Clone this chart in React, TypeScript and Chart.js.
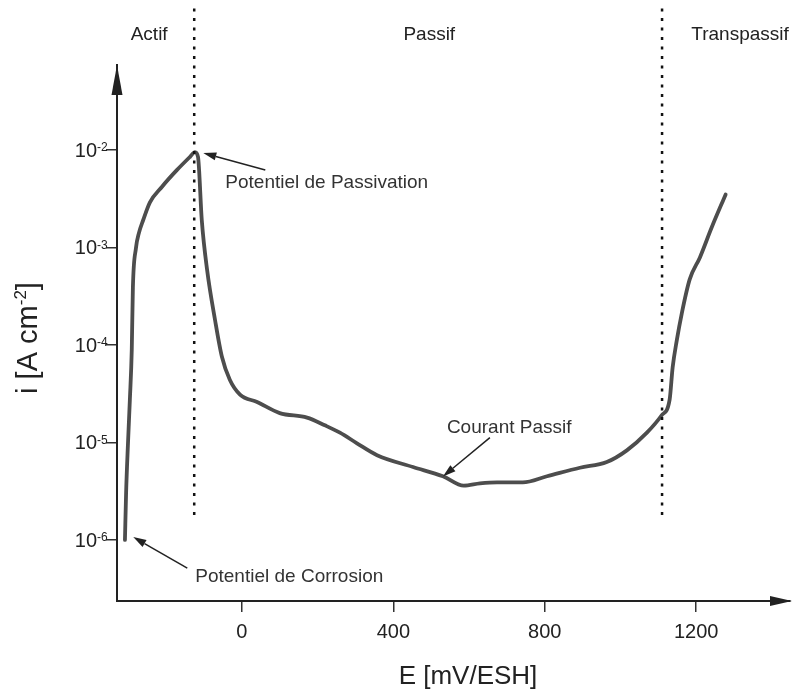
import React, { useEffect, useRef } from "react";
import { Chart, registerables } from "chart.js";

Chart.register(...registerables);

// Polarisation curve: potential (mV/ESH) and current density (A cm^-2)
const potentialMV = [
  -309, -306, -301, -296, -291, -288, -280, -272, -261, -243,
  -211, -172, -137, -124, -116, -106, -92, -71, -53, -32,
  -5, 40, 100, 172, 219, 259, 304, 357, 452, 531,
  586, 629, 674, 742, 806, 893, 964, 1017, 1070, 1109,
  1130, 1138, 1149, 1162, 1183, 1210, 1241, 1278,
];
const currentDensity = [
  1.0e-6, 3.0e-6, 9.8e-6, 2.75e-5, 8.9e-5, 3.9e-4, 9.8e-4, 1.41e-3, 1.9e-3, 2.9e-3,
  4.2e-3, 6.2e-3, 8.5e-3, 9.5e-3, 8.5e-3, 1.9e-3, 5.9e-4, 1.8e-4, 7.6e-5, 4.4e-5,
  3.1e-5, 2.6e-5, 2.0e-5, 1.8e-5, 1.5e-5, 1.26e-5, 9.8e-6, 7.4e-6, 5.6e-6, 4.5e-6,
  3.6e-6, 3.8e-6, 3.9e-6, 3.9e-6, 4.5e-6, 5.5e-6, 6.3e-6, 8.3e-6, 1.26e-5, 1.9e-5,
  2.75e-5, 5.9e-5, 1.12e-4, 2.1e-4, 4.7e-4, 7.9e-4, 1.6e-3, 3.5e-3,
];

const xTickValues = [0, 400, 800, 1200];
const yTickExponents = [-6, -5, -4, -3, -2];

// Region boundaries (dotted verticals) and their vertical extent
const regionBoundariesMV = [-126, 1110];
const boundaryExtent = [1.8e-6, 0.286];

const regionLabels = ["Actif", "Passif", "Transpassif"];
const regionLabelCentersMV = [-245, 495, 1316];

// Annotations: text and the point (E, i) the arrow points to
const annotationTexts = ["Potentiel de Passivation", "Potentiel de Corrosion", "Courant Passif"];
const annotationTipE = [-102, -287, 531];
const annotationTipI = [9.3e-3, 1.07e-6, 4.47e-6];

const xTitle = "E [mV/ESH]";

const FONT = "'Liberation Sans', Arial, sans-serif";

function drawArrow(ctx: CanvasRenderingContext2D, x1: number, y1: number, x2: number, y2: number) {
  const ang = Math.atan2(y2 - y1, x2 - x1);
  const headLen = 13;
  const headW = 4;
  const bx = x2 - headLen * Math.cos(ang);
  const by = y2 - headLen * Math.sin(ang);
  ctx.beginPath();
  ctx.moveTo(x1, y1);
  ctx.lineTo(bx, by);
  ctx.stroke();
  ctx.beginPath();
  ctx.moveTo(x2, y2);
  ctx.lineTo(bx + headW * Math.sin(ang), by - headW * Math.cos(ang));
  ctx.lineTo(bx - headW * Math.sin(ang), by + headW * Math.cos(ang));
  ctx.closePath();
  ctx.fill();
}

const overlayPlugin = {
  id: "overlay",
  afterDraw(chart: any) {
    const ctx: CanvasRenderingContext2D = chart.ctx;
    const xs = chart.scales.x;
    const ys = chart.scales.y;
    const ca = chart.chartArea;
    ctx.save();
    ctx.fillStyle = "#222";
    ctx.strokeStyle = "#222";

    // axis arrowheads
    ctx.beginPath();
    ctx.moveTo(ca.left, ca.top);
    ctx.lineTo(ca.left - 5.5, ca.top + 30);
    ctx.lineTo(ca.left + 5.5, ca.top + 30);
    ctx.closePath();
    ctx.fill();
    ctx.beginPath();
    ctx.moveTo(ca.right + 2, ca.bottom);
    ctx.lineTo(ca.right - 20, ca.bottom - 5);
    ctx.lineTo(ca.right - 20, ca.bottom + 5);
    ctx.closePath();
    ctx.fill();

    // y tick labels 10^n
    for (const t of ys.ticks) {
      const exp = Math.round(Math.log10(t.value));
      const py = ys.getPixelForValue(t.value);
      ctx.font = `20px ${FONT}`;
      ctx.textAlign = "right";
      ctx.textBaseline = "alphabetic";
      ctx.fillText("10", 97, py + 7);
      ctx.font = `12px ${FONT}`;
      ctx.textAlign = "left";
      ctx.fillText(String(exp), 97, py + 1.5);
    }

    // y title with superscript
    ctx.save();
    ctx.translate(37, 338);
    ctx.rotate(-Math.PI / 2);
    ctx.textAlign = "left";
    ctx.textBaseline = "alphabetic";
    const mainFont = `29px ${FONT}`;
    const supFont = `17px ${FONT}`;
    ctx.font = mainFont;
    const w1 = ctx.measureText("i [A cm").width;
    const w3 = ctx.measureText("]").width;
    ctx.font = supFont;
    const w2 = ctx.measureText("-2").width;
    let sx = -(w1 + w2 + w3) / 2;
    ctx.font = mainFont;
    ctx.fillText("i [A cm", sx, 0);
    sx += w1;
    ctx.font = supFont;
    ctx.fillText("-2", sx, -11);
    sx += w2;
    ctx.font = mainFont;
    ctx.fillText("]", sx, 0);
    ctx.restore();

    // x title
    ctx.font = `26px ${FONT}`;
    ctx.textAlign = "center";
    ctx.textBaseline = "middle";
    ctx.fillText(xTitle, 468, 677);

    // region labels
    ctx.font = `19px ${FONT}`;
    ctx.textAlign = "center";
    ctx.textBaseline = "alphabetic";
    regionLabels.forEach((lab, i) => {
      ctx.fillText(lab, xs.getPixelForValue(regionLabelCentersMV[i]), 40);
    });

    // annotations
    const tailOffsets = [[62, 17], [54, 31], [47, -39]];
    const textOffsets = [[22, 35], [62, 45], [4, -44]];
    ctx.lineWidth = 1.5;
    annotationTexts.forEach((txt, i) => {
      const tx = xs.getPixelForValue(annotationTipE[i]);
      const ty = ys.getPixelForValue(annotationTipI[i]);
      drawArrow(ctx, tx + tailOffsets[i][0], ty + tailOffsets[i][1], tx, ty);
      ctx.font = `19px ${FONT}`;
      ctx.textAlign = "left";
      ctx.textBaseline = "alphabetic";
      ctx.fillStyle = "#333";
      ctx.fillText(txt, tx + textOffsets[i][0], ty + textOffsets[i][1]);
      ctx.fillStyle = "#222";
    });

    ctx.restore();
  },
};

export default function App() {
  const canvasRef = useRef<HTMLCanvasElement | null>(null);

  useEffect(() => {
    if (!canvasRef.current) return;
    const curve = potentialMV.map((e, i) => ({ x: e, y: currentDensity[i] }));
    const boundaryDatasets = regionBoundariesMV.map((e) => ({
      data: [
        { x: e, y: boundaryExtent[0] },
        { x: e, y: boundaryExtent[1] },
      ],
      showLine: true,
      borderColor: "#111",
      borderWidth: 2.5,
      borderDash: [3, 6.5],
      pointRadius: 0,
      clip: false as any,
    }));

    const chart = new Chart(canvasRef.current, {
      type: "scatter",
      data: {
        datasets: [
          ...boundaryDatasets,
          {
            data: curve,
            showLine: true,
            borderColor: "#4d4d4d",
            borderWidth: 3.8,
            pointRadius: 0,
            cubicInterpolationMode: "monotone",
            borderJoinStyle: "round",
            borderCapStyle: "round",
            clip: false as any,
          },
        ],
      },
      options: {
        responsive: false,
        animation: false,
        events: [],
        layout: { padding: { left: 0, top: 65, right: 2, bottom: 0 } },
        plugins: {
          legend: { display: false },
          tooltip: { enabled: false },
        },
        scales: {
          x: {
            type: "linear",
            min: -330,
            max: 1448,
            bounds: "data",
            afterBuildTicks: (s: any) => {
              s.ticks = xTickValues.map((v) => ({ value: v }));
            },
            afterFit: (s: any) => {
              s.height = 93;
            },
            grid: {
              drawOnChartArea: false,
              drawTicks: true,
              tickLength: 11,
              color: "#333",
              tickColor: "#333",
              lineWidth: 1.5,
            },
            border: { display: true, color: "#222", width: 2 },
            ticks: {
              font: { size: 20, family: FONT },
              color: "#222",
              padding: 8,
              maxRotation: 0,
              autoSkip: false,
              callback: (v: any) => String(v),
            },
          },
          y: {
            type: "logarithmic",
            min: 2.366e-7,
            max: 0.0743,
            bounds: "data",
            afterBuildTicks: (s: any) => {
              s.ticks = yTickExponents.map((e) => ({ value: Math.pow(10, e) }));
            },
            afterFit: (s: any) => {
              s.width = 117;
            },
            grid: {
              drawOnChartArea: false,
              drawTicks: true,
              tickLength: 11,
              color: "#333",
              tickColor: "#333",
              lineWidth: 1.5,
            },
            border: { display: true, color: "#222", width: 2 },
            ticks: { display: false },
          },
        },
      },
      plugins: [overlayPlugin],
    });
    return () => chart.destroy();
  }, []);

  return (
    <div style={{ position: "fixed", left: 0, top: 0, width: 792, height: 694, background: "#fff" }}>
      <canvas ref={canvasRef} width={792} height={694} style={{ display: "block" }} />
    </div>
  );
}
